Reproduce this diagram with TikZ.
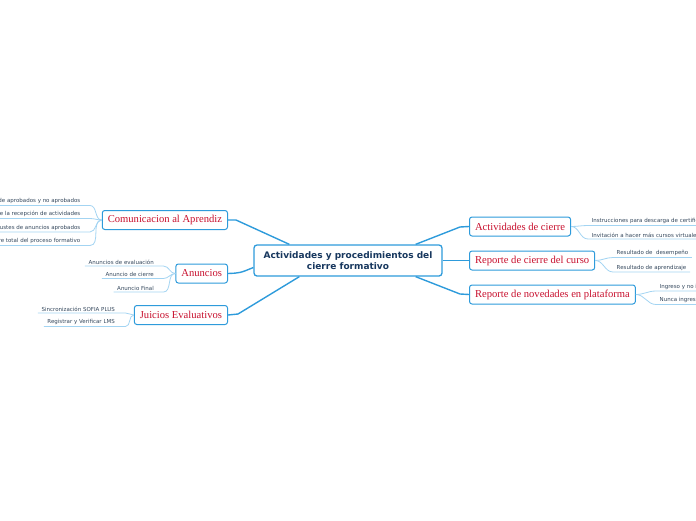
\documentclass[tikz,border=0pt]{standalone}
\usepackage{fontspec}
\setmainfont{Liberation Serif}
\newfontfamily\rootfont{DejaVu Sans}
\newfontfamily\leaffont{DejaVu Sans}

\definecolor{lineblue}{HTML}{2E9BDB}
\definecolor{twigblue}{HTML}{A3D4F2}
\definecolor{rootink}{HTML}{17375E}
\definecolor{topicred}{HTML}{C8102E}
\definecolor{leafink}{HTML}{34475C}

\tikzset{
  root/.style={draw=lineblue, line width=1.3pt, rounded corners=3pt, fill=white,
    minimum width=188pt, minimum height=31pt, align=center,
    font=\rootfont\bfseries\fontsize{9}{10.8}\selectfont, text=rootink},
  topic/.style={draw=lineblue, line width=1pt, rounded corners=2.5pt, fill=white,
    minimum height=19pt, inner xsep=5.5pt,
    font=\fontsize{10.6}{12}\selectfont, text=topicred},
  leaf/.style={inner xsep=3.5pt, inner ysep=1.5pt,
    font=\leaffont\fontsize{5.5}{6.5}\selectfont, text=leafink},
  trunk/.style={draw=lineblue, line width=1.4pt},
  twig/.style={draw=twigblue, line width=0.8pt}
}

\begin{document}
\begin{tikzpicture}[x=1pt, y=-1pt]

    \useasboundingbox (0,0) rectangle (696,520);

    % 中心主题
    \node[root] (root) at (348,260.5) {Actividades y procedimientos del\\cierre formativo};

    % 左边的分支
    \node[topic, anchor=east] (comu) at (228,220) {Comunicacion al Aprendiz};
    \node[topic, anchor=east] (anun) at (228,273.5) {Anuncios};
    \node[topic, anchor=east] (juic) at (228,315) {Juicios Evaluativos};

    % 右边的分支
    \node[topic, anchor=west] (acti) at (469,226.5) {Actividades de cierre};
    \node[topic, anchor=west] (repc) at (469,260.5) {Reporte de cierre del curso};
    \node[topic, anchor=west] (repn) at (469,294.5) {Reporte de novedades en plataforma};

    % 主干
    \draw[trunk] (root.north west) ++(36,0) coordinate (r1) -- (236,220) -- (comu.east);
    \draw[trunk] (root.west) ++(0,7) coordinate (r2) .. controls (240,273) .. (anun.east);
    \draw[trunk] (root.south west) ++(46,0) coordinate (r3) -- (238,314) -- (juic.east);
    \draw[trunk] (root.north east) ++(-27,0) coordinate (r4) -- (460,227) -- (acti.west);
    \draw[trunk] (root.east) -- (repc.west);
    \draw[trunk] (root.south east) ++(-27,0) coordinate (r6) -- (460,294) -- (repn.west);

    % 叶子：Comunicacion al Aprendiz
    \node[leaf, anchor=south east] (c1) at (84,205.5) {de aprobados y no aprobados};
    \node[leaf, anchor=south east] (c2) at (84,218.5) {de la recepción de actividades};
    \node[leaf, anchor=south east] (c3) at (84,232) {Ajustes de anuncios aprobados};
    \node[leaf, anchor=south east] (c4) at (84,245.5) {Cierre total del proceso formativo};
    \foreach \l in {c1,c2,c3,c4}
      \draw[twig] (comu.west) to[out=180, in=0] ([xshift=6pt]\l.south east) -- (\l.south west);

    % 叶子：Anuncios
    \node[leaf, anchor=south east] (a1) at (157.5,266) {Anuncios de evaluación};
    \node[leaf, anchor=south east] (a2) at (157.5,278.5) {Anuncio de cierre};
    \node[leaf, anchor=south east] (a3) at (157.5,292) {Anuncio Final};
    \foreach \l in {a1,a2,a3}
      \draw[twig] (anun.west) to[out=180, in=0] ([xshift=6pt]\l.south east) -- (\l.south west);

    % 叶子：Juicios Evaluativos
    \node[leaf, anchor=south east] (j1) at (118.5,313) {Sincronización SOFIA PLUS};
    \node[leaf, anchor=south east] (j2) at (118.5,326.5) {Registrar y Verificar LMS};
    \foreach \l in {j1,j2}
      \draw[twig] (juic.west) to[out=180, in=0] ([xshift=7pt]\l.south east) -- (\l.south west);

    % 叶子：Actividades de cierre
    \node[leaf, anchor=south west] (t1) at (588,225.5) {Instrucciones para descarga de certificados};
    \node[leaf, anchor=south west] (t2) at (588,239) {Invitación a hacer más cursos virtuales};
    \foreach \l in {t1,t2}
      \draw[twig] (acti.east) to[out=0, in=180] (\l.south west) -- (\l.south east);

    % 叶子：Reporte de cierre del curso
    \node[leaf, anchor=south west] (s1) at (613,257.5) {Resultado de \ desempeño};
    \node[leaf, anchor=south west] (s2) at (613,272) {Resultado de aprendizaje};
    \foreach \l in {s1,s2}
      \draw[twig] (repc.east) to[out=0, in=180] (\l.south west) -- (\l.south east);

    % 叶子：Reporte de novedades en plataforma
    \node[leaf, anchor=south west] (n1) at (656,291) {Ingreso y no ingreso};
    \node[leaf, anchor=south west] (n2) at (656,304.5) {Nunca ingresaron};
    \foreach \l in {n1,n2}
      \draw[twig] (repn.east) to[out=0, in=180] (\l.south west) -- (\l.south east);

  \end{tikzpicture}
\end{document}
